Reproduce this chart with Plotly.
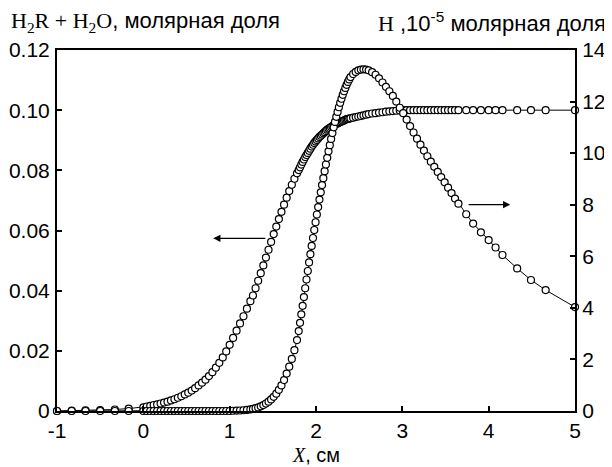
import plotly.graph_objects as go

# Shared computational grid (cm)
x_cm = [-1.0, -0.83, -0.67, -0.5, -0.33, -0.17, 0.0,
        0.04, 0.08, 0.12, 0.16, 0.2, 0.24, 0.28, 0.32, 0.36, 0.4, 0.44, 0.48, 0.52, 0.56, 0.6,
        0.64, 0.68, 0.72, 0.76, 0.8, 0.84, 0.88, 0.92, 0.96, 1.0, 1.04, 1.08, 1.12, 1.16, 1.2, 1.24,
        1.27, 1.3, 1.33, 1.36, 1.39, 1.42, 1.45, 1.48, 1.51, 1.54, 1.57, 1.6, 1.63, 1.66, 1.69,
        1.72, 1.75, 1.78,
        1.8, 1.815, 1.83, 1.845, 1.86, 1.875, 1.89, 1.905, 1.92, 1.935, 1.95, 1.965, 1.98, 1.995,
        2.01, 2.025, 2.04, 2.055, 2.07, 2.085, 2.1, 2.115, 2.13, 2.145, 2.16, 2.175, 2.19, 2.205,
        2.22, 2.235, 2.25, 2.265, 2.28, 2.295, 2.31, 2.325, 2.34, 2.355, 2.37, 2.385, 2.4,
        2.43, 2.46, 2.49, 2.52, 2.55, 2.58, 2.61,
        2.65, 2.69, 2.73, 2.77, 2.81, 2.85, 2.89, 2.93, 2.97, 3.01, 3.05, 3.09, 3.13, 3.17, 3.21,
        3.25, 3.29, 3.33, 3.37, 3.41, 3.45, 3.49, 3.53, 3.57, 3.61, 3.65,
        3.74, 3.82, 3.91, 4.0, 4.08, 4.16, 4.33, 4.49, 4.66, 5.0]

# H2R + H2O, mole fraction (left axis)
h2r_h2o = [0.0, 0.0001, 0.0002, 0.0003, 0.0005, 0.0008, 0.0012,
           0.0015, 0.0017, 0.002, 0.0022, 0.0025, 0.0028, 0.0031, 0.0035, 0.0039, 0.0044, 0.0049,
           0.0055, 0.0061, 0.0068, 0.0076, 0.0085, 0.0094, 0.0104, 0.0116, 0.0129, 0.0144, 0.016,
           0.0178, 0.0198, 0.022, 0.0243, 0.0267, 0.0291, 0.0315, 0.034, 0.0365,
           0.0384, 0.0408, 0.0433, 0.0458, 0.0484, 0.051, 0.0536, 0.0562, 0.0588, 0.0613, 0.0638,
           0.0662, 0.0686, 0.0709, 0.0731, 0.0752, 0.0772, 0.079,
           0.0801, 0.081, 0.0819, 0.0828, 0.0836, 0.0844, 0.0851, 0.0858, 0.0865, 0.0872, 0.0879,
           0.0885, 0.0891, 0.0896, 0.0901, 0.0906, 0.0911, 0.0915, 0.0919, 0.0923, 0.0927, 0.0931,
           0.0935, 0.0938, 0.0941, 0.0944, 0.0947, 0.095, 0.0952, 0.0954, 0.0956, 0.0958, 0.096,
           0.0962, 0.0964, 0.0966, 0.0968, 0.097, 0.0971, 0.0972, 0.0973,
           0.0975, 0.0977, 0.0979, 0.0981, 0.0983, 0.0985, 0.0987,
           0.0989, 0.099, 0.0992, 0.0993, 0.0995, 0.0996, 0.0997, 0.0998, 0.0999, 0.1, 0.1, 0.1,
           0.1, 0.1, 0.1, 0.1, 0.1, 0.1, 0.1, 0.1, 0.1, 0.1, 0.1, 0.1, 0.1, 0.1,
           0.1, 0.1, 0.1, 0.1, 0.1, 0.1, 0.1, 0.1, 0.1, 0.1]

# H, 10^-5 mole fraction (right axis)
h_atom = [0, 0, 0, 0, 0, 0, 0,
          0, 0, 0, 0, 0, 0, 0, 0, 0, 0, 0, 0, 0, 0, 0, 0, 0, 0, 0, 0, 0, 0, 0, 0, 0,
          0.01, 0.015, 0.02, 0.03, 0.04, 0.06,
          0.08, 0.11, 0.14, 0.18, 0.23, 0.29, 0.36, 0.45, 0.55, 0.67, 0.82, 0.99, 1.2, 1.45,
          1.72, 2.02, 2.36, 2.75,
          3.1, 3.42, 3.75, 4.08, 4.42, 4.76, 5.1, 5.43, 5.76, 6.08, 6.4, 6.71, 7.02, 7.32, 7.62,
          7.91, 8.2, 8.48, 8.76, 9.03, 9.3, 9.56, 9.82, 10.07, 10.31, 10.55, 10.78, 11.0, 11.21,
          11.41, 11.6, 11.78, 11.95, 12.11, 12.26, 12.4, 12.53, 12.65, 12.76, 12.86, 12.95,
          13.07, 13.15, 13.21, 13.24, 13.25, 13.24, 13.21,
          13.14, 13.04, 12.9, 12.74, 12.57, 12.4, 12.22, 12.0, 11.76, 11.55, 11.3, 11.05, 10.8,
          10.56, 10.33, 10.1, 9.88, 9.67, 9.47, 9.27, 9.07, 8.87, 8.66, 8.45, 8.24, 8.04,
          7.63, 7.27, 6.93, 6.63, 6.34, 6.05, 5.53, 5.08, 4.69, 4.03]

assert len(x_cm) == len(h2r_h2o) == len(h_atom)

x_ticks = [-1, 0, 1, 2, 3, 4, 5]
x_ticktext = ["-1", "0", "1", "2", "3", "4", "5"]
left_ticks = [0, 0.02, 0.04, 0.06, 0.08, 0.10, 0.12]
left_ticktext = ["0", "0.02", "0.04", "0.06", "0.08", "0.10", "0.12"]
right_ticks = [0, 2, 4, 6, 8, 10, 12, 14]
right_ticktext = ["0", "2", "4", "6", "8", "10", "12", "14"]

SANS = "Liberation Sans, Arial, sans-serif"

marker = dict(symbol="circle", size=7, color="white", line=dict(width=1.2, color="black"))

fig = go.Figure()
fig.add_trace(go.Scatter(x=x_cm, y=h2r_h2o, mode="lines+markers", marker=marker,
                         line=dict(color="black", width=1), cliponaxis=False,
                         showlegend=False, yaxis="y"))
fig.add_trace(go.Scatter(x=x_cm, y=h_atom, mode="lines+markers", marker=marker,
                         line=dict(color="black", width=1), cliponaxis=False,
                         showlegend=False, yaxis="y2"))

axis_common = dict(showline=True, linecolor="black", linewidth=2, ticks="inside",
                   ticklen=5, tickwidth=1.5, tickcolor="black", showgrid=False, zeroline=False,
                   tickfont=dict(family=SANS, size=21, color="black"))

# the page body adds an 8px offset, so the figure is 8px smaller on each axis
fig.update_layout(
    width=604, height=459,
    margin=dict(l=49, r=37, t=42, b=56, autoexpand=False),
    paper_bgcolor="white", plot_bgcolor="white",
    xaxis=dict(range=[-1, 5], tickvals=x_ticks, ticktext=x_ticktext, mirror=True,
               ticklabelstandoff=0, **axis_common),
    yaxis=dict(range=[0, 0.12], tickvals=left_ticks, ticktext=left_ticktext,
               ticklabelstandoff=1, **axis_common),
    yaxis2=dict(range=[0, 14], tickvals=right_ticks, ticktext=right_ticktext,
                overlaying="y", side="right", ticklabelstandoff=1, **axis_common),
)

# Direction arrows
fig.add_annotation(x=0.81, y=0.0574, ax=1.43, ay=0.0574, xref="x", yref="y",
                   axref="x", ayref="y", showarrow=True, arrowhead=2, arrowsize=1.2,
                   arrowwidth=1.2, arrowcolor="black", text="")
fig.add_annotation(x=4.25, y=8.0, ax=3.75, ay=8.0, xref="x", yref="y2",
                   axref="x", ayref="y2", showarrow=True, arrowhead=2, arrowsize=1.2,
                   arrowwidth=1.2, arrowcolor="black", text="")

# Axis titles
fig.add_annotation(
    xref="paper", yref="paper", x=-0.092, y=1.078, xanchor="left", yanchor="middle",
    showarrow=False,
    text=("<span style='font-family:Liberation Serif'>H<sub>2</sub>R + H<sub>2</sub>O</span>,"
          " молярная доля"),
    font=dict(family=SANS, size=22, color="black"))
fig.add_annotation(
    xref="paper", yref="paper", x=1.064, y=1.078, xanchor="right", yanchor="middle",
    showarrow=False,
    text="<span style='font-family:Liberation Serif'>H</span> ,10<sup>-5</sup> молярная доля",
    font=dict(family=SANS, size=22, color="black"))
fig.add_annotation(
    xref="paper", yref="paper", x=0.5, y=-0.123, xanchor="center", yanchor="middle",
    showarrow=False,
    text="<span style='font-family:Liberation Serif'><i>X</i></span>, см",
    font=dict(family=SANS, size=20, color="black"))

fig.write_html("out.html")
